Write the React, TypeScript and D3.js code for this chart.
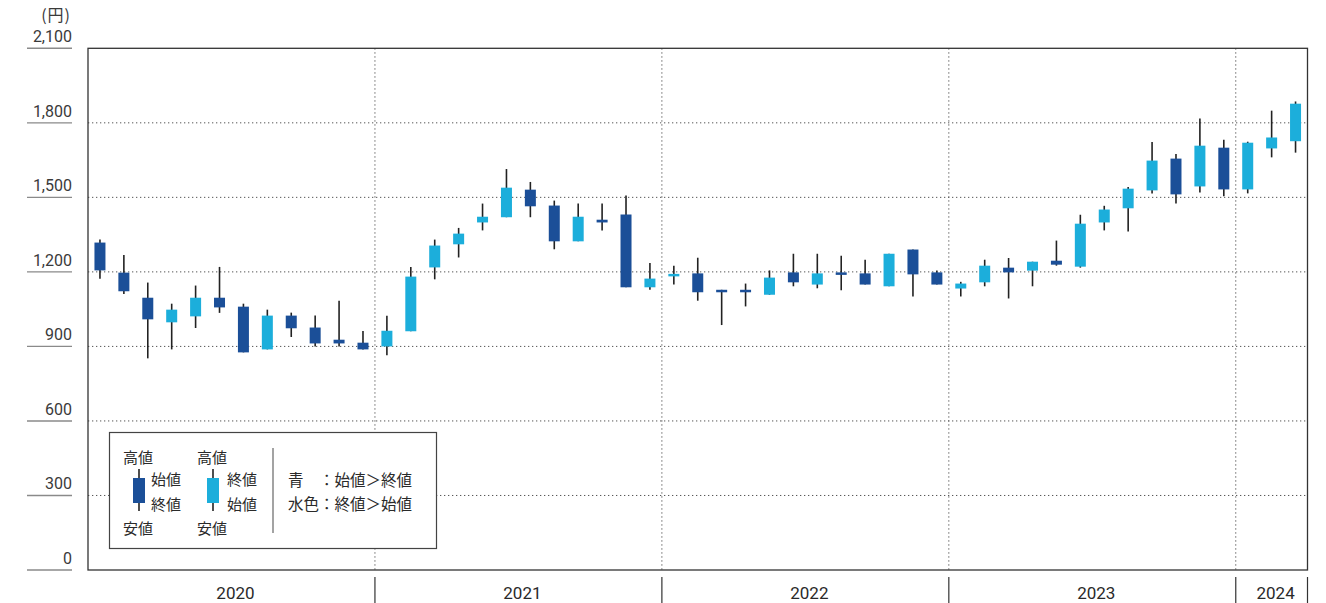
import React from "react";
import * as d3 from "d3";

const months: string[] = [
  "2020-01","2020-02","2020-03","2020-04","2020-05","2020-06","2020-07","2020-08","2020-09","2020-10","2020-11","2020-12",
  "2021-01","2021-02","2021-03","2021-04","2021-05","2021-06","2021-07","2021-08","2021-09","2021-10","2021-11","2021-12",
  "2022-01","2022-02","2022-03","2022-04","2022-05","2022-06","2022-07","2022-08","2022-09","2022-10","2022-11","2022-12",
  "2023-01","2023-02","2023-03","2023-04","2023-05","2023-06","2023-07","2023-08","2023-09","2023-10","2023-11","2023-12",
  "2024-01","2024-02","2024-03",
];
const openV: number[] = [
  1318,1197,1096,997,1021,1096,1060,888,1024,976,927,915,
  900,961,1218,1311,1399,1420,1531,1467,1323,1410,1431,1138,
  1182,1194,1128,1128,1108,1198,1149,1198,1194,1142,1290,1198,
  1133,1158,1217,1205,1245,1221,1399,1456,1528,1656,1544,1700,
  1532,1697,1726,
];
const highV: number[] = [
  1330,1268,1157,1072,1145,1220,1072,1048,1036,1024,1084,962,
  1023,1220,1330,1377,1475,1614,1562,1487,1475,1475,1507,1236,
  1225,1257,1128,1153,1206,1273,1273,1265,1249,1273,1290,1206,
  1160,1249,1256,1241,1326,1430,1466,1542,1723,1675,1817,1732,
  1724,1849,1886,
];
const lowV: number[] = [
  1172,1111,852,888,974,1035,876,888,938,900,900,888,
  864,961,1170,1258,1367,1420,1420,1291,1323,1367,1138,1128,
  1149,1084,986,1061,1108,1142,1134,1126,1149,1142,1101,1149,
  1101,1142,1093,1142,1225,1217,1367,1363,1516,1475,1520,1504,
  1516,1661,1680,
];
const closeV: number[] = [
  1206,1122,1009,1048,1096,1057,876,1024,973,912,912,888,
  963,1181,1306,1354,1422,1539,1464,1323,1422,1399,1138,1173,
  1192,1118,1118,1118,1177,1158,1194,1189,1149,1273,1190,1149,
  1153,1225,1198,1241,1229,1394,1451,1535,1648,1512,1708,1532,
  1720,1741,1877,
];
const years: string[] = ["2020","2021","2022","2023","2024"];
const yTicks: number[] = [0,300,600,900,1200,1500,1800,2100];
const legendLeft: string[] = ["高値","始値","終値","安値"];
const legendRight: string[] = ["高値","終値","始値","安値"];
const legendNotes: string[] = ["青　：始値＞終値","水色：終値＞始値"];

const DARK = "#1b4f98";
const LIGHT = "#1caedb";
const NUM_FONT = "Roboto, 'Liberation Sans', Arial, sans-serif";
const JP_FONT = "'Noto Sans CJK JP', sans-serif";

export default function App() {
  const W = 1326, H = 603;
  const left = 88, right = 1307.5, top = 48.3, bottom = 570;
  const x = d3.scaleBand<string>().domain(months).range([left, right]).paddingInner(0).paddingOuter(0);
  const y = d3.scaleLinear().domain([0, 2100]).range([bottom, top]);
  const bw = x.bandwidth();
  const bodyW = 11;

  const yearStart = (yr: string) => x(months.find((m) => m.startsWith(yr))!)!;
  const yearEnd = (yr: string) => {
    const ms = months.filter((m) => m.startsWith(yr));
    return x(ms[ms.length - 1])! + bw;
  };
  const boundaries = years.slice(1).map((yr) => yearStart(yr));

  const candles = months.map((m, i) => ({
    m, o: openV[i], h: highV[i], l: lowV[i], c: closeV[i],
  }));

  return (
    <svg width={W} height={H} style={{ position: "absolute", left: 0, top: 0, background: "#fff" }}>
      {/* horizontal grid */}
      {yTicks.filter((t) => t > 0 && t < 2100).map((t) => (
        <line key={"hg" + t} x1={left} x2={right} y1={y(t)} y2={y(t)} stroke="#555" strokeWidth={1} strokeDasharray="1.3,2.7" />
      ))}
      {/* vertical grid */}
      {boundaries.map((bx, i) => (
        <line key={"vg" + i} x1={bx} x2={bx} y1={top} y2={bottom} stroke="#555" strokeWidth={1} strokeDasharray="1.3,2.7" />
      ))}
      {/* y tick labels + underlines */}
      {yTicks.map((t) => (
        <g key={"yt" + t}>
          <line x1={27} x2={72} y1={y(t)} y2={y(t)} stroke="#8a8a8a" strokeWidth={1.4} />
          <text x={72} y={y(t) - 6} textAnchor="end" fontFamily={NUM_FONT} fontSize={16} fill="#3a3a3a">
            {d3.format(",")(t)}
          </text>
        </g>
      ))}
      <text x={71} y={21} textAnchor="end" fontFamily={JP_FONT} fontSize={16} letterSpacing={1} fill="#3a3a3a">(円)</text>

      {/* candles */}
      {candles.map((d) => {
        const cx = x(d.m)! + bw / 2;
        const up = d.c >= d.o;
        const yt = y(Math.max(d.o, d.c));
        const yb = y(Math.min(d.o, d.c));
        return (
          <g key={d.m}>
            <line x1={cx} x2={cx} y1={y(d.h)} y2={y(d.l)} stroke="#222" strokeWidth={1.6} />
            <rect x={cx - bodyW / 2} y={yt} width={bodyW} height={Math.max(yb - yt, 2.5)} fill={up ? LIGHT : DARK} />
          </g>
        );
      })}

      {/* frame */}
      <rect x={left} y={top} width={right - left} height={bottom - top} fill="none" stroke="#333" strokeWidth={1.3} />

      {/* x axis year labels and separators */}
      {years.map((yr) => {
        const a = yearStart(yr), b = yearEnd(yr);
        return (
          <text key={"yr" + yr} x={(a + b) / 2 + 4} y={599} textAnchor="middle" fontFamily={NUM_FONT} fontSize={17} fill="#2a2a2a">
            {yr}
          </text>
        );
      })}
      {[...boundaries, right].map((bx, i) => (
        <line key={"sep" + i} x1={bx} x2={bx} y1={577} y2={603} stroke="#333" strokeWidth={1.2} />
      ))}

      {/* legend */}
      <g>
        <rect x={109.5} y={432.5} width={327} height={116} fill="#fff" stroke="#444" strokeWidth={1.2} />
        <g fontFamily={JP_FONT} fontSize={15} fill="#2a2a2a" dominantBaseline="central">
          <text x={123} y={456}>{legendLeft[0]}</text>
          <text x={151} y={478}>{legendLeft[1]}</text>
          <text x={151} y={503}>{legendLeft[2]}</text>
          <text x={123} y={527}>{legendLeft[3]}</text>
          <text x={197} y={456}>{legendRight[0]}</text>
          <text x={227} y={478}>{legendRight[1]}</text>
          <text x={227} y={503}>{legendRight[2]}</text>
          <text x={197} y={527}>{legendRight[3]}</text>
        </g>
        <line x1={139} x2={139} y1={469} y2={511} stroke="#222" strokeWidth={1.6} />
        <rect x={133} y={478} width={12} height={25} fill={DARK} />
        <line x1={213} x2={213} y1={469} y2={511} stroke="#222" strokeWidth={1.6} />
        <rect x={207} y={478} width={12} height={25} fill={LIGHT} />
        <line x1={273} x2={273} y1={448} y2={533} stroke="#666" strokeWidth={1.2} />
        <g fontFamily={JP_FONT} fontSize={15.5} fill="#2a2a2a" dominantBaseline="central">
          <text x={288} y={479}>{legendNotes[0]}</text>
          <text x={288} y={503}>{legendNotes[1]}</text>
        </g>
      </g>
    </svg>
  );
}
